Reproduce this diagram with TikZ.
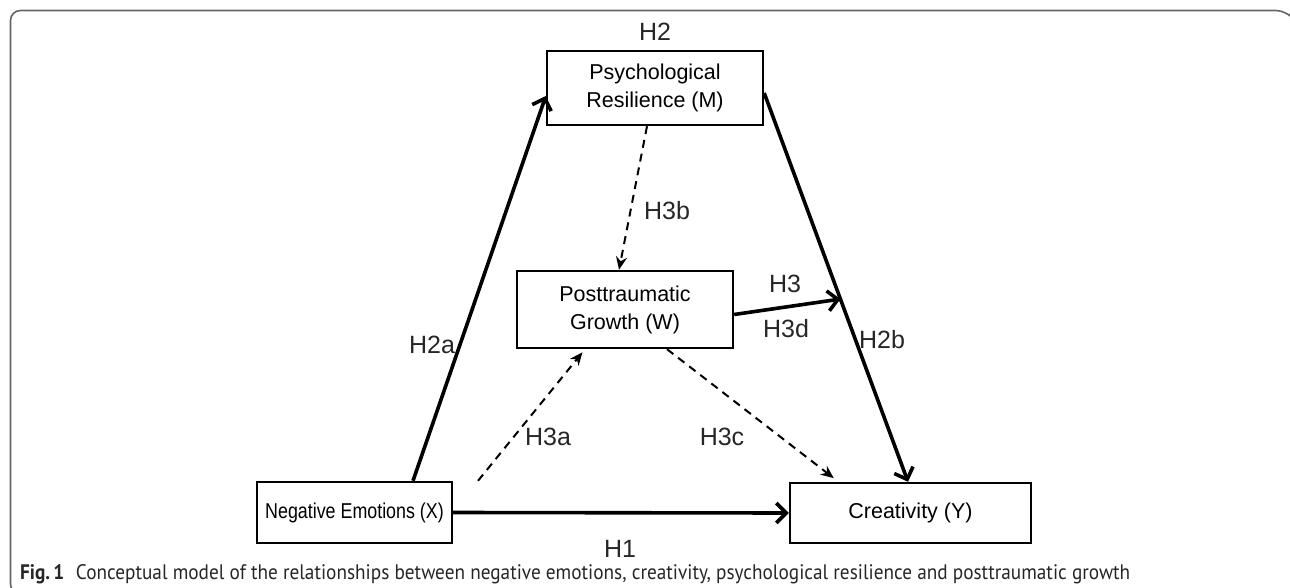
\documentclass[tikz,border=0pt]{standalone}
\usepackage{fontspec}
\setmainfont{Liberation Sans}
\newfontfamily\capfont{PT Sans}
\usetikzlibrary{arrows.meta,calc}
\begin{document}
\begin{tikzpicture}[x=1pt,y=-1pt,
  box/.style={draw=black, line width=2.4pt, inner sep=0pt, align=center,
    font=\fontsize{21.5}{28}\selectfont},
  solidarrow/.style={line width=3.6pt, -{Straight Barb[length=10pt,width=20pt,line width=3.6pt]}},
  dasharrow/.style={line width=2pt, dash pattern=on 8pt off 6pt, -{Stealth[length=13pt,width=11pt]}},
  hlab/.style={font=\fontsize{25}{28}\selectfont, inner sep=0pt, text=black!85}
]
\useasboundingbox (0,0) rectangle (1290,588);
% frame
\draw[line width=1.6pt, color=black!60, rounded corners=10pt]
  (1289,14) -- (1286,10.5) -- (10.5,10.5) -- (10.5,594) -- (40,594);
% boxes
\node[box, minimum width=216pt, minimum height=74pt] (psych) at (655,88) {Psychological\\Resilience (M)};
\node[box, minimum width=216pt, minimum height=77pt] (pg) at (625,309.5) {Posttraumatic\\Growth (W)};
\node[box, minimum width=195pt, minimum height=61pt] (neg) at (354.5,512.5) {\scalebox{0.83}[1]{Negative Emotions (X)}};
\node[box, minimum width=241pt, minimum height=60pt] (cre) at (910.5,513) {Creativity (Y)};
% arrows
\coordinate (h2bs) at ([yshift=-5pt]psych.east);
\coordinate (h2be) at ([xshift=-2.5pt]cre.north);
\coordinate (h3e) at ($(h2bs)!0.53!(h2be)$);
\draw[solidarrow] ([xshift=58.5pt]neg.north) -- ([yshift=-8pt]psych.west);
\draw[solidarrow] (h2bs) -- (h2be);
\draw[solidarrow] ([yshift=-5pt]pg.east) -- (h3e);
\draw[solidarrow] (neg.east) -- (cre.west);
\draw[dasharrow] ([xshift=-8pt]psych.south) -- ([xshift=-6pt]pg.north);
\draw[dasharrow, shorten >=4pt] ([xshift=123.5pt]neg.north) -- ([xshift=-40pt]pg.south);
\draw[dasharrow, shorten >=6pt] ([xshift=42pt]pg.south) -- ([xshift=-72pt]cre.north);
% labels
\node[hlab] (lh2) at (655,32) {H2};
\node[hlab] (lh3b) at (667,211) {H3b};
\node[hlab] (lh3) at (785,284) {H3};
\node[hlab] (lh3d) at (786,329) {H3d};
\node[hlab] (lh2a) at (432,345) {H2a};
\node[hlab] (lh2b) at (882,340) {H2b};
\node[hlab] (lh3a) at (548,437) {H3a};
\node[hlab] (lh3c) at (722,437) {H3c};
\node[hlab] (lh1) at (620,549) {H1};
% caption
\node[anchor=west, inner sep=0pt, text=black!85] (cap) at (20,574) {\resizebox{1110pt}{\height}{\capfont\fontsize{21}{24}\selectfont\textbf{Fig.\,1}\hspace{0.6em}Conceptual model of the relationships between negative emotions, creativity, psychological resilience and posttraumatic growth}};
\end{tikzpicture}
\end{document}
